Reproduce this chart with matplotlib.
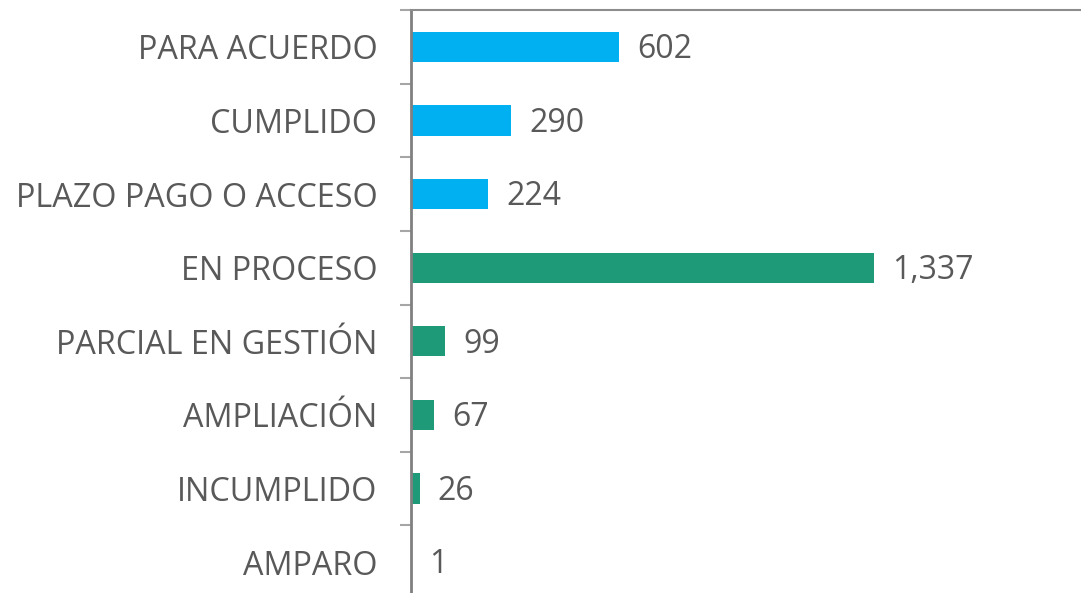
from matplotlib import pyplot as plt
import matplotlib

matplotlib.rcParams['font.family'] = ['Open Sans', 'DejaVu Sans']

categories = ['PARA ACUERDO', 'CUMPLIDO', 'PLAZO PAGO O ACCESO', 'EN PROCESO',
              'PARCIAL EN GESTIÓN', 'AMPLIACIÓN', 'INCUMPLIDO', 'AMPARO']
values = [602, 290, 224, 1337, 99, 67, 26, 1]
colors = ['#00B0F0'] * 3 + ['#1E9A78'] * 5

fig = plt.figure(figsize=(10.81, 5.93), dpi=100)
ax = fig.add_axes([0.380, -0.010, 0.620, 0.993])

pos = list(range(len(categories)))
ax.barh(pos, values, height=0.41, color=colors)
ax.set_ylim(len(categories) - 0.5, -0.5)
ax.set_xlim(0, 1936)

ax.set_yticks(pos)
ax.set_yticklabels(categories, fontsize=23.3, color='#595959')
ax.set_yticks([p - 0.5 for p in pos] + [len(pos) - 0.5], minor=True)
ax.tick_params(axis='y', which='major', length=0, pad=24)
ax.tick_params(axis='y', which='minor', length=8, width=1.5, color='#A6A6A6')
ax.set_xticks([])

for s in ['right', 'bottom']:
    ax.spines[s].set_visible(False)
ax.spines['left'].set_color('#808080')
ax.spines['left'].set_linewidth(2)
ax.spines['top'].set_color('#8C8C8C')
ax.spines['top'].set_linewidth(1.5)

for p, v in zip(pos, values):
    ax.annotate('{:,}'.format(v), (v, p), xytext=(13, -2), textcoords='offset points',
                va='center', ha='left', fontsize=23, color='#595959')

fig.savefig('out.png', dpi=100)
